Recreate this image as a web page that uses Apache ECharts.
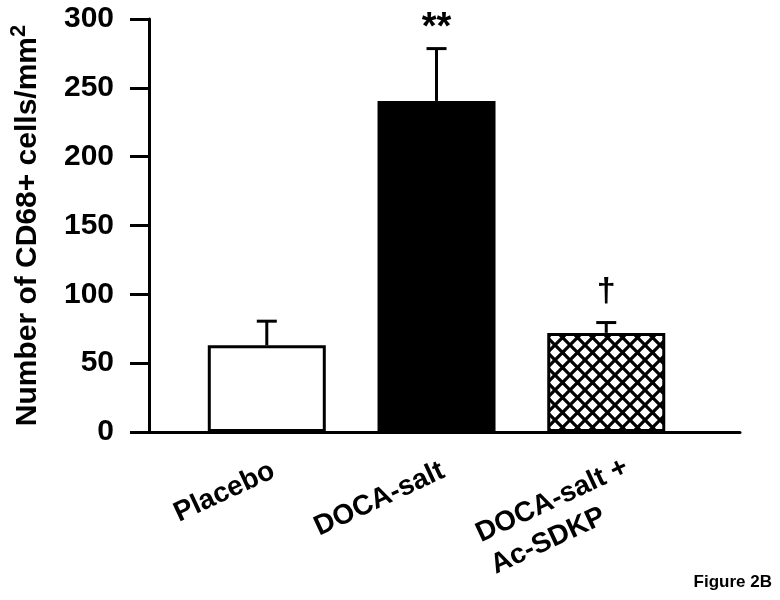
<!DOCTYPE html>
<html><head><meta charset="utf-8">
<script src="https://cdn.jsdelivr.net/npm/echarts@6/dist/echarts.min.js"></script>
<style>html,body{margin:0;padding:0;background:#fff}#c{width:780px;height:600px}</style>
</head><body><div id="c"></div>
<script>
const categories = ['Placebo', 'DOCA-salt', 'DOCA-salt +\nAc-SDKP'];
const means = [63, 240.5, 72];
const errors = [17.5, 38, 7.5];
const marks = ['', '**', '\u2020'];
const yTicks = [0, 50, 100, 150, 200, 250, 300];

const FONT = 'Liberation Sans, Arial, sans-serif';

function hatch() {
  const s = 15;
  const c = document.createElement('canvas');
  c.width = s; c.height = s;
  const g = c.getContext('2d');
  g.fillStyle = '#fff';
  g.fillRect(0, 0, s, s);
  g.strokeStyle = '#000';
  g.lineWidth = 3.2;
  g.beginPath();
  for (const dx of [-s, 0, s]) {
    g.moveTo(dx, 0); g.lineTo(dx + s, s);
    g.moveTo(dx + s, 0); g.lineTo(dx, s);
  }
  g.stroke();
  return c;
}
const fills = ['#ffffff', '#000000', { image: hatch(), repeat: 'repeat' }];

function xLabel(v) {
  const lines = categories[Math.round(v)].split('\n');
  if (lines.length === 1) return '{n|' + lines[0] + '}';
  return lines.map(t => '{w|' + t + '}').join('\n');
}

const chart = echarts.init(document.getElementById('c'), null, { renderer: 'canvas' });
chart.setOption({
  backgroundColor: '#fff',
  animation: false,
  title: {
    text: 'Figure 2B', right: 3, bottom: 4,
    textStyle: { fontSize: 17, fontWeight: 'bold', fontFamily: FONT, color: '#000' }
  },
  grid: { left: 148, right: 40, top: 19, bottom: 168, containLabel: false },
  xAxis: {
    type: 'value', min: -0.694, max: 2.788,
    axisLine: { show: true, onZero: false, lineStyle: { color: '#000', width: 3 } },
    axisTick: { show: false },
    splitLine: { show: false },
    axisLabel: {
      customValues: [0, 1, 2],
      formatter: xLabel,
      rotate: 25, margin: 24,
      align: 'right', verticalAlign: 'top',
      fontSize: 28, fontWeight: 'bold', fontFamily: FONT, color: '#000', lineHeight: 30,
      rich: {
        n: { fontSize: 28, fontWeight: 'bold', fontFamily: FONT, color: '#000', lineHeight: 30 },
        w: { fontSize: 28, fontWeight: 'bold', fontFamily: FONT, color: '#000', lineHeight: 35, width: 150, align: 'left', overflow: 'none' }
      }
    }
  },
  yAxis: {
    type: 'value', min: 0, max: 300, interval: 50,
    axisLine: { show: true, onZero: false, lineStyle: { color: '#000', width: 3 } },
    axisTick: { show: true, length: 19, lineStyle: { color: '#000', width: 3 } },
    splitLine: { show: false },
    axisLabel: {
      margin: 35, fontSize: 30, fontWeight: 'bold', fontFamily: FONT, color: '#000',
      formatter: v => String(yTicks[yTicks.indexOf(v)] ?? v)
    },
    name: '{a|Number of CD68+ cells/mm}{s|2}',
    nameLocation: 'middle', nameGap: 106, nameRotate: 90,
    nameTextStyle: {
      fontSize: 30, fontWeight: 'bold', fontFamily: FONT, color: '#000',
      rich: {
        a: { fontSize: 30, fontWeight: 'bold', fontFamily: FONT, color: '#000', verticalAlign: 'bottom' },
        s: { fontSize: 22, fontWeight: 'bold', fontFamily: FONT, color: '#000', verticalAlign: 'bottom', padding: [0, 0, 13, 0] }
      }
    }
  },
  series: [
    {
      type: 'bar',
      barWidth: 118,
      data: means.map((v, i) => ({
        value: [i, v],
        itemStyle: { color: fills[i], borderColor: '#000', borderWidth: 3 }
      })),
      z: 2
    },
    {
      type: 'custom',
      z: 3,
      data: means.map((v, i) => [i, v, errors[i]]),
      renderItem: (params, api) => {
        const x = api.value(0), v = api.value(1), e = api.value(2);
        const p0 = api.coord([x, v]);
        const p1 = api.coord([x, v + e]);
        const idx = params.dataIndex;
        const children = [
          { type: 'line', shape: { x1: p0[0], y1: p0[1], x2: p1[0], y2: p1[1] }, style: { stroke: '#000', lineWidth: 3 } },
          { type: 'line', shape: { x1: p1[0] - 10, y1: p1[1], x2: p1[0] + 10, y2: p1[1] }, style: { stroke: '#000', lineWidth: 3 } }
        ];
        if (marks[idx]) {
          children.push({
            type: 'text',
            style: {
              text: marks[idx], x: p1[0], y: p1[1] - (idx === 1 ? 1 : 14),
              align: 'center', verticalAlign: 'bottom',
              fontSize: idx === 1 ? 38 : 34, fontWeight: 'bold', fontFamily: FONT, fill: '#000'
            }
          });
        }
        return { type: 'group', children };
      }
    }
  ]
});
</script></body></html>
